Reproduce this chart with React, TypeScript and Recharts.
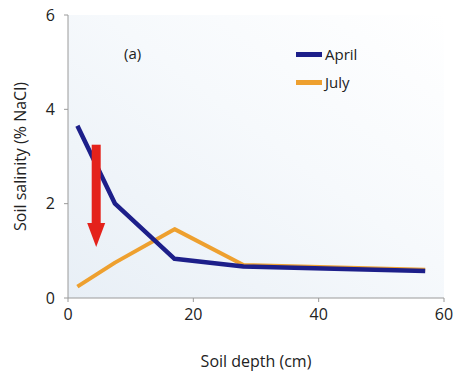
import React from "react";
import {
  LineChart,
  Line,
  XAxis,
  YAxis,
  CartesianGrid,
  ReferenceLine,
} from "recharts";

const depths = [1.5, 7.5, 17, 28, 57];
const april = [3.65, 2.0, 0.83, 0.67, 0.57];
const july = [0.24, 0.75, 1.46, 0.7, 0.6];
const xTicks = [0, 20, 40, 60];
const yTicks = [0, 2, 4, 6];
const arrowTop = 3.25;
const arrowTip = 1.08;
const arrowDepth = 4.5;

const series = [
  { key: "april", name: "April", color: "#1d1f8a" },
  { key: "july", name: "July", color: "#eea02f" },
];

const data = depths.map((d, i) => ({ depth: d, april: april[i], july: july[i] }));

const font = "'Open Sans', 'DejaVu Sans', sans-serif";

function Arrow(props: any) {
  const { x1, y1, y2 } = props;
  const head = 24;
  return (
    <g>
      <rect x={x1 - 4.5} y={y1} width={9} height={y2 - y1 - head + 1} fill="#e4221b" />
      <polygon
        points={`${x1 - 9},${y2 - head} ${x1 + 9},${y2 - head} ${x1},${y2}`}
        fill="#e4221b"
      />
    </g>
  );
}

export default function App() {
  return (
    <div style={{ position: "absolute", left: 0, top: 0, width: 456, height: 373, background: "#fff" }}>
      <LineChart
        width={456}
        height={373}
        data={data}
        margin={{ top: 15, right: 12, left: 0, bottom: 0 }}
      >
        <defs>
          <linearGradient id="bg" x1="0" y1="1" x2="1" y2="0">
            <stop offset="0%" stopColor="#e8eff6" />
            <stop offset="55%" stopColor="#f6f9fc" />
            <stop offset="100%" stopColor="#ffffff" />
          </linearGradient>
        </defs>
        <CartesianGrid horizontal={false} vertical={false} fill="url(#bg)" />
        <XAxis
          dataKey="depth"
          type="number"
          domain={[0, 60]}
          ticks={xTicks}
          height={75}
          stroke="#9a9a9a"
          tickSize={4}
          tickMargin={7}
          tick={{ fontSize: 16, fill: "#222", fontFamily: font }}
          label={{
            value: "Soil depth (cm)",
            position: "insideBottom",
            offset: 6,
            style: { fontSize: 16, fill: "#222", fontFamily: font },
          }}
        />
        <YAxis
          type="number"
          domain={[0, 6]}
          ticks={yTicks}
          width={68}
          stroke="#9a9a9a"
          tickSize={4}
          tickMargin={9}
          tick={{ fontSize: 16, fill: "#222", fontFamily: font }}
          label={{
            value: "Soil salinity (% NaCl)",
            angle: -90,
            position: "insideLeft",
            offset: 20,
            style: { fontSize: 16, fill: "#222", fontFamily: font, textAnchor: "middle" },
          }}
        />
        <Line
          dataKey="july"
          name="July"
          stroke="#eea02f"
          strokeWidth={4}
          dot={false}
          isAnimationActive={false}
          strokeLinejoin="round"
        />
        <Line
          dataKey="april"
          name="April"
          stroke="#1d1f8a"
          strokeWidth={4.5}
          dot={false}
          isAnimationActive={false}
          strokeLinejoin="round"
        />
        <ReferenceLine
          segment={[
            { x: arrowDepth, y: arrowTop },
            { x: arrowDepth, y: arrowTip },
          ]}
          shape={<Arrow />}
        />
      </LineChart>
      <div
        style={{
          position: "absolute",
          left: 124,
          top: 43,
          fontFamily: font,
          fontSize: 15,
          color: "#222",
        }}
      >
        (a)
      </div>
      <div
        style={{
          position: "absolute",
          left: 296,
          top: 40,
          fontFamily: font,
          fontSize: 15,
          color: "#222",
        }}
      >
        {series.map((s) => (
          <div key={s.key} style={{ display: "flex", alignItems: "center", height: 28 }}>
            <span style={{ width: 26, height: 5, background: s.color, marginRight: 3 }} />
            {s.name}
          </div>
        ))}
      </div>
    </div>
  );
}
